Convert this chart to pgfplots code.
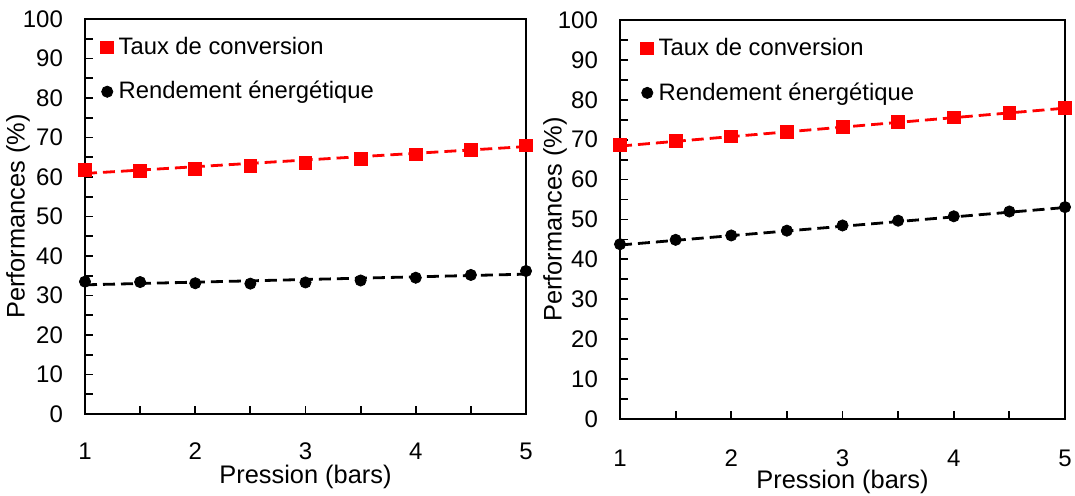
\documentclass[border=0pt]{standalone}
\usepackage{fontspec}
\setmainfont{Liberation Sans}
\usepackage{pgfplots}
\pgfplotsset{compat=1.18}
\definecolor{xlred}{RGB}{255,0,0}

\pgfplotstableread{
x    tc    re
1    61.7  33.5
1.5  61.5  33.4
2    62.0  33.1
2.5  62.9  33.0
3    63.6  33.3
3.5  64.5  33.8
4    65.7  34.5
4.5  66.8  35.2
5    68.0  36.2
}\leftdata
\pgfplotstableread{
x    tc    re
1    68.7  43.8
1.5  69.6  44.9
2    70.8  46.0
2.5  72.0  47.2
3    73.2  48.5
3.5  74.4  49.7
4    75.6  50.8
4.5  76.8  52.0
5    77.9  53.1
}\rightdata

\pgfplotsset{
  perf/.style={
    scale only axis, anchor=south west,
    xmin=1, xmax=5, ymin=0, ymax=100,
    xtick={1,2,3,4,5}, minor xtick={1.5,2.5,3.5,4.5},
    ytick={0,10,...,100}, minor ytick={5,15,...,95},
    tick align=inside, xtick pos=bottom, ytick pos=left,
    major tick length=4pt, minor tick length=4pt,
    every tick/.style={black, line width=0.9pt},
    axis line style={line width=1pt},
    tick label style={font=\fontsize{12}{14}\selectfont},
    label style={font=\fontsize{12.7}{15}\selectfont},
    /pgf/number format/assume math mode=true,
    clip=false,
    xlabel={Pression (bars)}, ylabel={Performances (\%)},
    xticklabel style={anchor=center, inner sep=0pt, yshift=-18.5pt},
    yticklabel style={xshift=-7.5pt},
    legend cell align=left,
    legend image code/.code={\draw[#1] plot coordinates {(0pt,0pt)};},
    legend style={draw=none, fill=none, anchor=north west, inner sep=0pt,
      font=\fontsize{11.9}{14}\selectfont, row sep=8pt, column sep=0.5pt,
      nodes={inner sep=2pt}},
  },
  trend/.style={no marks, line width=1.4pt, dash pattern=on 6pt off 3pt},
  tcmark/.style={only marks, mark=square*, mark size=3.2pt, color=xlred},
  remark/.style={only marks, mark=*, mark size=2.8pt, color=black},
}

\begin{document}
\begin{tikzpicture}
\useasboundingbox (0,0) rectangle (537.5pt,248pt);

\begin{axis}[perf, at={(42.5pt,41pt)}, width=220.5pt, height=197.5pt,
  xlabel style={at={(axis description cs:0.5,-0.16)}, anchor=center},
  ylabel style={at={(axis description cs:-0.152,0.5)}, anchor=center},
  legend style={at={(axis description cs:0.035,0.965)}}]
\addplot[trend, xlred, forget plot] coordinates {(1,60.9) (5,67.7)};
\addplot[trend, black, forget plot] coordinates {(1,32.7) (5,35.4)};
\addplot[tcmark] table[x=x, y=tc] {\leftdata};
\addlegendentry{Taux de conversion}
\addplot[remark] table[x=x, y=re] {\leftdata};
\addlegendentry{Rendement énergétique}
\end{axis}

\begin{axis}[perf, at={(310pt,38.5pt)}, width=222.5pt, height=199.5pt,
  xticklabel style={yshift=-1pt},
  xlabel style={at={(axis description cs:0.5,-0.158)}, anchor=center},
  ylabel style={at={(axis description cs:-0.146,0.5)}, anchor=center},
  legend style={at={(axis description cs:0.046,0.965)}}]
\addplot[trend, xlred, forget plot] coordinates {(1,68.4) (5,77.9)};
\addplot[trend, black, forget plot] coordinates {(1,43.6) (5,53.0)};
\addplot[tcmark] table[x=x, y=tc] {\rightdata};
\addlegendentry{Taux de conversion}
\addplot[remark] table[x=x, y=re] {\rightdata};
\addlegendentry{Rendement énergétique}
\end{axis}
\end{tikzpicture}
\end{document}
